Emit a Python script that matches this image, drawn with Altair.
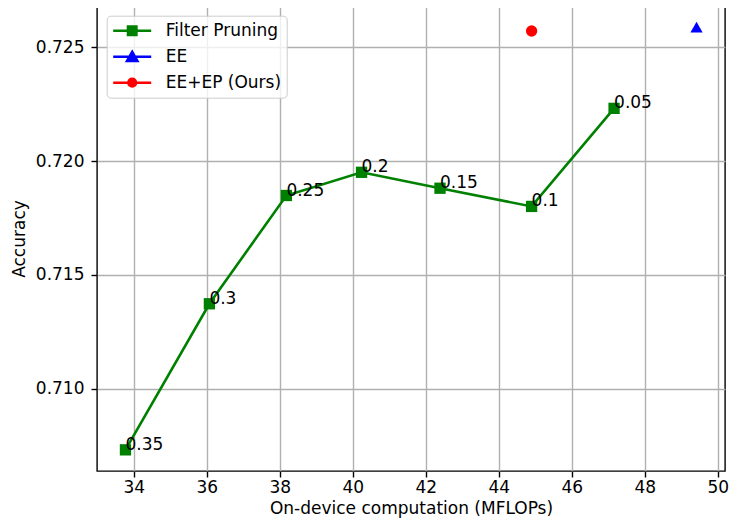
import altair as alt
import pandas as pd

# ---- data ----
fp_mflops = [33.77, 36.07, 38.18, 40.24, 42.39, 44.90, 47.16]
fp_acc = [0.70731, 0.71373, 0.71849, 0.71951, 0.71881, 0.71801, 0.72232]
fp_ratio = ["0.35", "0.3", "0.25", "0.2", "0.15", "0.1", "0.05"]

ee_mflops = [49.42]
ee_acc = [0.72589]

ours_mflops = [44.90]
ours_acc = [0.72572]

series_names = ["Filter Pruning", "EE", "EE+EP (Ours)"]
series_colors = ["#008000", "#0000ff", "#ff0000"]
legend_paths = [
    "M-1,0H1M-0.22,-0.22H0.22V0.22H-0.22Z",
    "M-1,0H1M0,-0.25L0.27,0.22H-0.27Z",
    "M-1,0H1M0.2,0A0.2,0.2,0,1,1,-0.2,0A0.2,0.2,0,1,1,0.2,0Z",
]

x_ticks = [34, 36, 38, 40, 42, 44, 46, 48, 50]
y_ticks = [0.710, 0.715, 0.720, 0.725]

FONT = "DejaVu Sans"

fp = pd.DataFrame({"x": fp_mflops, "y": fp_acc, "label": fp_ratio})
ee = pd.DataFrame({"x": ee_mflops, "y": ee_acc})
ours = pd.DataFrame({"x": ours_mflops, "y": ours_acc})
leg = pd.DataFrame({
    "series": series_names,
    "x": [fp_mflops[0], ee_mflops[0], ours_mflops[0]],
    "y": [fp_acc[0], ee_acc[0], ours_acc[0]],
})

X = alt.X("x:Q",
          scale=alt.Scale(domain=[32.99, 50.20], nice=False, zero=False),
          axis=alt.Axis(values=x_ticks, format="d",
                        title="On-device computation (MFLOPs)",
                        labelPadding=2, titlePadding=5))
Y = alt.Y("y:Q",
          scale=alt.Scale(domain=[0.70638, 0.72682], nice=False, zero=False),
          axis=alt.Axis(values=y_ticks, format=".3f", title="Accuracy",
                        labelPadding=7, titlePadding=7))

line = alt.Chart(fp).mark_line(color="#008000", strokeWidth=2.6).encode(x=X, y=Y)
squares = alt.Chart(fp).mark_point(shape="square", filled=True, size=128,
                                   color="#008000", opacity=1).encode(x=X, y=Y)
labels = alt.Chart(fp).mark_text(align="left", baseline="alphabetic",
                                 fontSize=17, font=FONT, color="black").encode(
    x=X, y=Y, text="label:N")
tri = alt.Chart(ee).mark_point(shape="triangle-up", filled=True, size=150,
                               color="#0000ff", opacity=1).encode(x=X, y=Y)
dot = alt.Chart(ours).mark_point(shape="circle", filled=True, size=128,
                                 color="#ff0000", opacity=1).encode(x=X, y=Y)

lg = alt.Legend(title=None, orient="none", legendX=9.7, legendY=9.7,
                symbolSize=1444, symbolStrokeWidth=2.6, symbolOpacity=1,
                clipHeight=20, rowPadding=6, padding=5, labelOffset=13,
                labelFont=FONT, labelFontSize=17, labelColor="black",
                fillColor="rgba(255,255,255,0.8)", strokeColor="#cccccc",
                cornerRadius=4)
legend_layer = alt.Chart(leg).mark_point(filled=True, opacity=0).encode(
    x=X, y=Y,
    fill=alt.Fill("series:N", scale=alt.Scale(domain=series_names, range=series_colors), legend=lg),
    stroke=alt.Stroke("series:N", scale=alt.Scale(domain=series_names, range=series_colors), legend=lg),
    shape=alt.Shape("series:N", scale=alt.Scale(domain=series_names, range=legend_paths), legend=lg),
)

chart = alt.layer(line, squares, labels, tri, dot, legend_layer).properties(
    width=628, height=465,
    autosize=alt.AutoSizeParams(type="none"),
    padding={"left": 89, "top": -2, "right": 4, "bottom": 48},
    background="white",
).configure_view(stroke="black", strokeWidth=1.4).configure_axis(
    domain=False, grid=True, gridColor="#b0b0b0", gridWidth=1.4,
    tickColor="black", tickSize=6, tickWidth=1.4,
    labelFont=FONT, labelFontSize=17, labelColor="black",
    titleFont=FONT, titleFontSize=17, titleFontWeight="normal", titleColor="black",
)

chart.save("out.html", embed_options={"renderer": "svg", "actions": False})
